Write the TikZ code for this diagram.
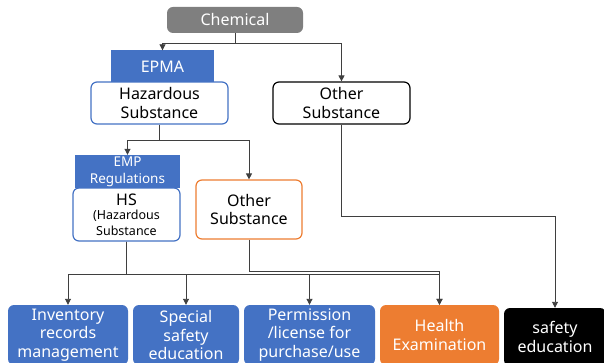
\documentclass[tikz,border=0pt]{standalone}
\usepackage{fontspec}
\setmainfont{Noto Sans}
\usetikzlibrary{arrows.meta}
\definecolor{regblue}{HTML}{4472C4}
\definecolor{hsorange}{HTML}{ED7D31}
\definecolor{chemgray}{HTML}{7F7F7F}
\definecolor{linegray}{HTML}{3F3F3F}

\begin{document}
\begin{tikzpicture}[x=1pt,y=-1pt,
  box/.style={rounded corners=6pt,align=center,inner sep=0pt,font=\fontsize{16}{18.5}\selectfont},
  lawbox/.style={fill=regblue,text=white,align=center,inner sep=0pt},
  arr/.style={draw=linegray,line width=.9pt,-{Triangle[length=6pt,width=6pt]}}]
\clip (0,0) rectangle (604,363);
% top levels
\node[box,fill=chemgray,text=white,minimum width=136pt,minimum height=26pt] (chem) at (235,20) {Chemical};
\node[box,draw=regblue,line width=1.2pt,fill=white,minimum width=137pt,minimum height=42pt] (hz) at (159.5,103) {Hazardous\\Substance};
\node[lawbox,minimum width=103pt,minimum height=32pt,font=\fontsize{16}{18}\selectfont] (epma) at (162.5,66.5) {EPMA};
\node[box,draw=black,line width=1.2pt,minimum width=137pt,minimum height=42pt] (oth1) at (341.5,103) {Other\\Substance};
% second level
\node[box,draw=regblue,line width=1.2pt,fill=white,minimum width=107pt,minimum height=53pt] (hs) at (126.5,214.5) {};
\node[font=\fontsize{16}{18}\selectfont] (hstxt) at (126.5,200) {HS};
\node[font=\fontsize{12.5}{15.5}\selectfont,align=center] (hsfull) at (126.5,223) {(Hazardous\\Substance};
\node[lawbox,minimum width=105pt,minimum height=33pt,font=\fontsize{13.5}{17}\selectfont] (emp) at (127.5,171.5) {EMP\\Regulations};
\node[box,draw=hsorange,line width=1.2pt,minimum width=106pt,minimum height=59pt] (oth2) at (249,209.5) {Other\\Substance};
% duties
\node[box,fill=regblue,text=white,minimum width=120pt,minimum height=60pt] (inv) at (68,335) {Inventory\\records\\management};
\node[box,fill=regblue,text=white,minimum width=106pt,minimum height=60pt] (spe) at (186,335) {Special\\safety\\education};
\node[box,fill=regblue,text=white,minimum width=131pt,minimum height=60pt] (per) at (309.5,335) {Permission\\/license for\\purchase/use};
\node[box,fill=hsorange,text=white,minimum width=119pt,minimum height=60pt] (hea) at (439.5,335) {Health\\Examination};
\node[box,fill=black,text=white,minimum width=102pt,minimum height=58pt] (saf) at (555,337) {safety\\education};
% connectors
\draw[arr] (chem.south) -- ++(0,10) -| (epma.north);
\draw[arr] (chem.south) -- ++(0,10) -| (oth1.north);
\draw[arr] (hz.south) -- ++(0,16) -| (emp.north);
\draw[arr] (hz.south) -- ++(0,16) -| (oth2.north);
\draw[arr] (hs.south) -- ++(0,33) -| (inv.north);
\draw[arr] (hs.south) -- ++(0,33) -| (spe.north);
\draw[arr] (hs.south) -- ++(0,33) -| (per.north);
\draw[arr] (hs.south) -- ++(0,33) -| (hea.north);
\draw[arr] (oth2.south) -- ++(0,32) -| (hea.north);
\draw[arr] (oth1.south) -- ++(0,92) -| (saf.north);
\end{tikzpicture}
\end{document}
